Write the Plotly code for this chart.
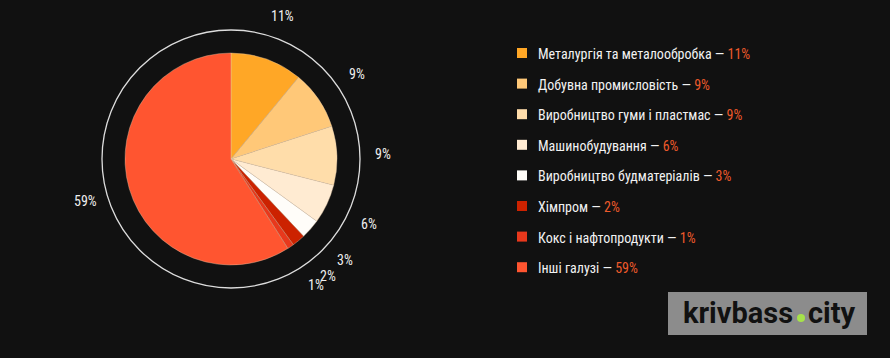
import math
import plotly.graph_objects as go

# ---- data ----
labels = [
    "Металургія та металообробка",
    "Добувна промисловість",
    "Виробництво гуми і пластмас",
    "Машинобудування",
    "Виробництво будматеріалів",
    "Хімпром",
    "Кокс і нафтопродукти",
    "Інші галузі",
]
values = [11, 9, 9, 6, 3, 2, 1, 59]
colors = ["#FFA726", "#FFC878", "#FFDDAA", "#FFEBD2", "#FFFDF9", "#CC2200", "#E8381C", "#FF5530"]

# ---- layout constants ----
W, H = 890, 358
BG = "#111111"
CX, CY, R = 231, 159, 106
RING_R = 129
LABEL_R = 152
VAL_COLOR = "#EE5A2B"
FONT = "Liberation Sans Narrow, Roboto Condensed, Roboto, sans-serif"


def px(x):
    return x / W


def py(y):
    return 1 - y / H


fig = go.Figure()
fig.add_trace(go.Pie(
    labels=labels,
    values=values,
    sort=False,
    direction="clockwise",
    rotation=0,
    marker=dict(colors=colors, line=dict(color="rgba(225,200,170,0.55)", width=0.7)),
    textinfo="none",
    hoverinfo="label+percent",
    showlegend=False,
    domain=dict(x=[px(CX - R), px(CX + R)], y=[py(CY + R), py(CY - R)]),
))

shapes = []
annotations = []

# outer ring
shapes.append(dict(type="circle", xref="paper", yref="paper",
                   x0=px(CX - RING_R), x1=px(CX + RING_R),
                   y0=py(CY + RING_R), y1=py(CY - RING_R),
                   line=dict(color="#DDDDDD", width=1.3)))

# percentage labels around the pie
total = sum(values)
cum = 0
for v in values:
    mid = (cum + v / 2) / total * 2 * math.pi
    cum += v
    x = CX + LABEL_R * math.sin(mid)
    y = CY - LABEL_R * math.cos(mid)
    annotations.append(dict(x=px(x), y=py(y), xref="paper", yref="paper",
                            text=f"{v}%", showarrow=False,
                            xanchor="center", yanchor="middle",
                            font=dict(family=FONT, size=14, color="#EEEEEE")))

# legend
LEG_X_SQ = 517
LEG_X_TXT = 536
LEG_Y0 = 53
LEG_DY = 30.6
for i, (lab, v, c) in enumerate(zip(labels, values, colors)):
    yc = LEG_Y0 + i * LEG_DY
    shapes.append(dict(type="rect", xref="paper", yref="paper",
                       x0=px(LEG_X_SQ), x1=px(LEG_X_SQ + 10),
                       y0=py(yc + 5), y1=py(yc - 5),
                       fillcolor=c, line=dict(width=0)))
    annotations.append(dict(x=px(LEG_X_TXT), y=py(yc + 1), xref="paper", yref="paper",
                            text=f"{lab} — <span style='color:{VAL_COLOR}'>{v}%</span>",
                            showarrow=False, xanchor="left", yanchor="middle",
                            font=dict(family=FONT, size=14, color="#F2F2F2")))

# logo
shapes.append(dict(type="rect", xref="paper", yref="paper",
                   x0=px(668), x1=px(867), y0=py(335), y1=py(292),
                   fillcolor="#8C8C8C", line=dict(width=0)))
shapes.append(dict(type="circle", xref="paper", yref="paper",
                   x0=px(797), x1=px(805), y0=py(322), y1=py(314),
                   fillcolor="#A6E24A", line=dict(width=0)))
annotations.append(dict(x=px(795), y=py(313), xref="paper", yref="paper",
                        text="<b>krivbass</b>", showarrow=False,
                        xanchor="right", yanchor="middle",
                        font=dict(family="Roboto", size=29, color="#111111")))
annotations.append(dict(x=px(806), y=py(313), xref="paper", yref="paper",
                        text="<b>city</b>", showarrow=False,
                        xanchor="left", yanchor="middle",
                        font=dict(family="Roboto", size=29, color="#111111")))

fig.update_layout(
    width=W, height=H,
    margin=dict(l=0, r=0, t=0, b=0),
    paper_bgcolor=BG, plot_bgcolor=BG,
    shapes=shapes, annotations=annotations,
    showlegend=False,
)

fig.write_html(
    "out.html",
    config={"displayModeBar": False},
    post_script="document.body.style.margin='0';document.body.style.background='#111111';",
)
